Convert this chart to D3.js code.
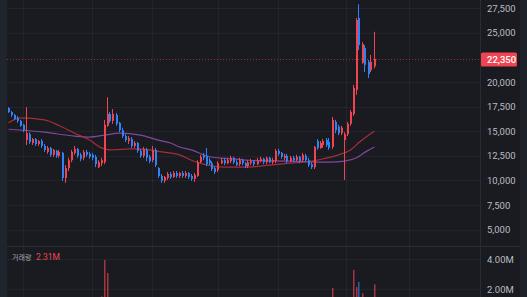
<!DOCTYPE html>
<html>
<head>
<meta charset="utf-8">
<script src="https://cdn.jsdelivr.net/npm/d3@7"></script>
<style>
html, body { margin: 0; padding: 0; background: #1a1b20; overflow: hidden; }
svg { display: block; }
</style>
</head>
<body>
<div id="chart"></div>
<script>
// daily candles, KRW
const opens = [
  17350,16950,16650,16350,16050,15650,14100,14700,13800,14200,
  13700,14000,13500,12900,13300,12600,13000,12500,12800,10250,
  11250,12050,12800,13200,12600,12300,12900,12700,12600,12400,
  11350,11750,11850,15550,16750,16050,16650,15850,15100,14500,
  14000,14200,13500,13800,13000,12500,13100,12400,12050,13100,
  11250,10450,9950,10250,10650,10350,10750,10450,10750,10450,
  10750,10450,10150,10450,11850,12600,12500,12050,11750,11250,
  11050,11750,12050,11750,11950,12300,11850,11650,12050,11750,
  11450,11750,11950,11650,11950,12200,11850,12300,11850,11950,
  13000,12800,12300,12500,11950,12300,12050,12400,12050,12500,
  12050,11650,11350,14000,13300,13600,14100,13900,13400,15950,
  15450,14800,14100,14700,15750,16750,19200,26500,21950,23450,
  22050,21200,21600
];
const highs = [
  17450,17050,16750,16550,16150,15750,17450,14900,14300,14300,
  14100,14200,13700,13500,13400,13200,13100,13100,12900,11550,
  12300,13100,13500,13300,12800,13100,13100,12900,12800,12600,
  12050,12300,16150,18450,16950,17250,16850,15950,15350,14700,
  14500,14400,14000,13900,13200,13400,13300,12600,13500,13300,
  11350,10650,10450,10850,10850,10950,10950,10850,10950,10950,
  10850,10650,10750,12050,12600,12800,13300,12300,11950,11450,
  11950,12300,12300,12300,12500,12400,12050,12300,12200,11850,
  12050,12200,12050,12300,12400,12300,12400,12400,12300,13200,
  13200,12900,12700,12700,12500,12500,12600,12500,12800,12700,
  12300,11850,13500,14200,14000,14200,14300,14300,16450,16150,
  15650,15550,14900,15950,17150,19700,26500,27900,24050,23750,
  22250,22750,25100
];
const lows = [
  16850,16450,16150,15850,15450,14900,13600,13700,13600,13500,
  13500,13300,12900,12700,12400,12400,12300,12300,9950,9750,
  10950,11850,12600,12300,11950,12050,12400,12200,12050,11350,
  11250,11450,11650,15450,15850,15750,15550,14900,14300,13900,
  13700,13300,13300,12800,12300,12300,11950,11750,11850,11350,
  10250,9750,9750,10050,10150,10250,10250,10250,10250,10250,
  10150,9950,9850,10350,11750,12050,11450,11550,10950,10650,
  10850,11650,11550,11650,11750,11650,11450,11450,11550,11250,
  11250,11550,11450,11550,11850,11650,11650,11750,11650,11750,
  12500,12200,12050,11750,11850,11850,11950,11750,11850,11850,
  11350,11150,11150,13100,13200,13300,13400,13100,13200,14800,
  14600,14600,10050,14500,15550,16550,18700,23250,21850,21000,
  20400,21000,21400
];
const closes = [
  16950,16650,16250,16050,15550,15100,14800,13900,14200,13700,
  14000,13500,13100,13300,12600,13100,12500,12900,10250,11250,
  12050,12900,13200,12500,12200,12900,12600,12400,12300,11650,
  11850,12050,15650,16750,16050,16750,15750,15100,14500,14100,
  14300,13500,13800,13000,12500,13200,12300,11950,13100,11550,
  10450,9950,10350,10650,10350,10750,10450,10750,10450,10750,
  10350,10150,10550,11850,12400,12300,11650,11750,11150,10850,
  11750,12050,11750,12050,12300,11850,11550,12050,11750,11450,
  11850,11950,11650,12050,12200,11850,12300,11850,12050,13000,
  12700,12400,12500,11950,12300,12050,12400,11950,12600,12050,
  11550,11350,13400,13300,13800,14000,13600,13300,16150,15100,
  14800,15350,14700,15750,16950,19400,26300,23750,23850,21750,
  20800,22050,22350
];
// volume, millions of shares
const volumes = [
  0.45,0.38,0.41,0.33,0.5,0.47,1.1,0.52,0.36,0.31,
  0.29,0.35,0.4,0.33,0.3,0.28,0.26,0.3,1.05,0.9,
  0.55,0.48,0.42,0.36,0.3,0.33,0.27,0.25,0.24,0.4,
  0.38,1.5,3.93,3.07,1.2,1.1,0.8,0.7,0.6,0.5,
  0.45,0.48,0.4,0.42,0.38,0.45,0.4,0.36,0.7,0.8,
  0.55,0.5,0.35,0.32,0.28,0.25,0.24,0.22,0.21,0.2,
  0.22,0.25,0.3,0.85,0.6,0.45,0.55,0.35,0.33,0.3,
  0.4,0.3,0.25,0.24,0.26,0.22,0.21,0.25,0.2,0.19,
  0.22,0.2,0.18,0.21,0.2,0.19,0.22,0.2,0.21,0.75,
  0.45,0.35,0.3,0.28,0.26,0.25,0.27,0.24,0.3,0.28,
  0.35,0.4,1.25,0.9,0.6,0.55,0.5,0.45,2.07,1.1,
  0.7,0.6,1.35,1.0,1.2,3.27,2.13,2.47,1.73,1.3,
  0.95,1.0,2.31
];

// moving averages read at these candle positions
const maRedIdx = [0,4,12,17,22,27,31,34,41,47,51,57,61,65,72,80,87,94,101,105,110,114,117,120,122];
const maRed    = [15850,16350,16150,15550,14800,14100,13300,13100,13200,13100,12900,12600,12050,11650,11350,11350,11550,11750,11950,12200,12600,13100,13900,14600,15000];
const maPurpleIdx = [0,12,22,27,32,37,44,50,54,57,61,67,74,80,94,107,112,116,119,122];
const maPurple    = [15200,14900,14500,14400,14600,14800,14600,14100,13800,13400,13100,12400,12200,12050,11950,11850,11950,12300,12900,13400];

const priceTicks = [5000,7500,10000,12500,15000,17500,20000,25000,27500];
const volTicks = [2, 4];
const dateGridIdx = [4.8, 27.8, 47.8, 69.8, 89.8, 112.5, 133.5];
const volLabel = '거래량';

const width = 527;
const height = 297;
const plotLeft = 7;
const plotRight = 480;
const paneSplit = 246.5;

const upColor = '#f04452';
const downColor = '#3182f6';
const axisText = '#b9bcc4';

const svg = d3.select('#chart').append('svg')
  .attr('width', width)
  .attr('height', height)
  .style('font-family', 'Roboto, "Noto Sans CJK KR", sans-serif');

svg.append('rect').attr('width', width).attr('height', height).attr('fill', '#1a1b20');
svg.append('rect').attr('x', 0).attr('width', plotLeft).attr('height', height).attr('fill', '#20242d');
svg.append('rect').attr('x', 520).attr('width', width - 520).attr('height', height).attr('fill', '#1f2128');

const x = d3.scaleLinear().domain([0, closes.length - 1]).range([8.5, 374.5]);
const y = d3.scaleLinear().domain([5000, 27500]).range([229.6, 8.2]);
const yv = d3.scaleLinear().domain([0, 4]).range([319, 259]);

const defs = svg.append('defs');
defs.append('clipPath').attr('id', 'clip-main')
  .append('rect').attr('x', plotLeft).attr('y', 0).attr('width', plotRight - plotLeft).attr('height', paneSplit);
defs.append('clipPath').attr('id', 'clip-vol')
  .append('rect').attr('x', plotLeft).attr('y', paneSplit).attr('width', plotRight - plotLeft).attr('height', height - paneSplit);

// grid
const grid = svg.append('g').attr('stroke', '#ffffff').attr('stroke-opacity', 0.045);
grid.selectAll('.vgrid')
  .data(dateGridIdx)
  .enter()
  .append('line')
  .attr('x1', d => Math.round(x(d)) + 0.5)
  .attr('x2', d => Math.round(x(d)) + 0.5)
  .attr('y1', 0)
  .attr('y2', height);
grid.selectAll('.hgrid')
  .data(priceTicks)
  .enter()
  .append('line')
  .attr('x1', plotLeft)
  .attr('x2', plotRight)
  .attr('y1', d => Math.round(y(d)) + 0.5)
  .attr('y2', d => Math.round(y(d)) + 0.5);
grid.selectAll('.vgridv')
  .data(volTicks)
  .enter()
  .append('line')
  .attr('x1', plotLeft)
  .attr('x2', plotRight)
  .attr('y1', d => Math.round(yv(d)) + 0.5)
  .attr('y2', d => Math.round(yv(d)) + 0.5);

// pane borders
svg.append('line')
  .attr('x1', plotLeft).attr('x2', 520)
  .attr('y1', paneSplit).attr('y2', paneSplit)
  .attr('stroke', '#2c2e35');
svg.append('line')
  .attr('x1', plotRight + 0.5).attr('x2', plotRight + 0.5)
  .attr('y1', 0).attr('y2', height)
  .attr('stroke', '#2a2c33');

const main = svg.append('g').attr('clip-path', 'url(#clip-main)');

// last price dotted line
const lastY = Math.round(y(closes[closes.length - 1])) + 0.5;
main.append('line')
  .attr('x1', plotLeft).attr('x2', plotRight)
  .attr('y1', lastY).attr('y2', lastY)
  .attr('stroke', upColor)
  .attr('stroke-opacity', 0.55)
  .attr('stroke-dasharray', '1,2');

// moving averages
const maLine = d3.line()
  .x(d => x(d[0]))
  .y(d => y(d[1]))
  .curve(d3.curveMonotoneX);

main.append('path')
  .datum(maPurpleIdx.map((d, i) => [d, maPurple[i]]))
  .attr('d', maLine)
  .attr('fill', 'none')
  .attr('stroke', '#9150b3')
  .attr('stroke-opacity', 0.85)
  .attr('stroke-width', 1.2);

main.append('path')
  .datum(maRedIdx.map((d, i) => [d, maRed[i]]))
  .attr('d', maLine)
  .attr('fill', 'none')
  .attr('stroke', '#b3303d')
  .attr('stroke-opacity', 0.9)
  .attr('stroke-width', 1.2);

// candles
const candles = closes.map((c, i) => ({ i, o: opens[i], h: highs[i], l: lows[i], c, v: volumes[i] }));
const colorOf = d => d.c >= d.o ? upColor : downColor;

main.selectAll('.wick')
  .data(candles)
  .enter()
  .append('line')
  .attr('x1', d => Math.round(x(d.i)) - 0.5)
  .attr('x2', d => Math.round(x(d.i)) - 0.5)
  .attr('y1', d => y(d.h))
  .attr('y2', d => y(d.l))
  .attr('stroke', colorOf)
  .attr('stroke-width', 1);

main.selectAll('.body')
  .data(candles)
  .enter()
  .append('rect')
  .attr('x', d => Math.round(x(d.i)) - 1)
  .attr('width', 2)
  .attr('y', d => y(Math.max(d.o, d.c)))
  .attr('height', d => Math.max(1, Math.abs(y(d.o) - y(d.c))))
  .attr('fill', colorOf);

// volume pane
const vol = svg.append('g').attr('clip-path', 'url(#clip-vol)');
vol.selectAll('.vbar')
  .data(candles)
  .enter()
  .append('rect')
  .attr('x', d => Math.round(x(d.i)) - 1)
  .attr('width', 1.5)
  .attr('y', d => yv(d.v))
  .attr('height', d => yv(0) - yv(d.v))
  .attr('fill', colorOf)
  .attr('fill-opacity', 0.65);

svg.append('text')
  .attr('x', 12).attr('y', 260)
  .attr('font-size', 7)
  .attr('font-family', '"Noto Sans CJK KR", sans-serif')
  .attr('fill', '#a5a8b0')
  .text(volLabel);
svg.append('text')
  .attr('x', 36).attr('y', 260)
  .attr('font-size', 8.5)
  .attr('fill', upColor)
  .text(d3.format('.2f')(volumes[volumes.length - 1]) + 'M');

// axes
const yAxis = d3.axisRight(y)
  .tickValues(priceTicks)
  .tickSize(0)
  .tickPadding(7)
  .tickFormat(d3.format(','));

const yAxisG = svg.append('g')
  .attr('transform', `translate(${plotRight}, 0)`)
  .call(yAxis);
yAxisG.select('.domain').remove();
yAxisG.selectAll('text').attr('fill', axisText).attr('font-size', 9.5).attr('font-family', 'Roboto, sans-serif');

const vAxis = d3.axisRight(yv)
  .tickValues(volTicks)
  .tickSize(0)
  .tickPadding(7)
  .tickFormat(d => d3.format('.2f')(d) + 'M');
const vAxisG = svg.append('g')
  .attr('transform', `translate(${plotRight}, 0)`)
  .call(vAxis);
vAxisG.select('.domain').remove();
vAxisG.selectAll('text').attr('fill', axisText).attr('font-size', 9.5).attr('font-family', 'Roboto, sans-serif');

// last price tag
const tag = svg.append('g');
tag.append('rect')
  .attr('x', 481).attr('y', lastY - 7)
  .attr('width', 36).attr('height', 14)
  .attr('rx', 1.5)
  .attr('fill', upColor);
tag.append('text')
  .attr('x', 487).attr('y', lastY)
  .attr('dy', '0.34em')
  .attr('font-size', 9.5)
  .attr('font-weight', 500)
  .attr('fill', '#ffffff')
  .text(d3.format(',')(closes[closes.length - 1]));
</script>
</body>
</html>
